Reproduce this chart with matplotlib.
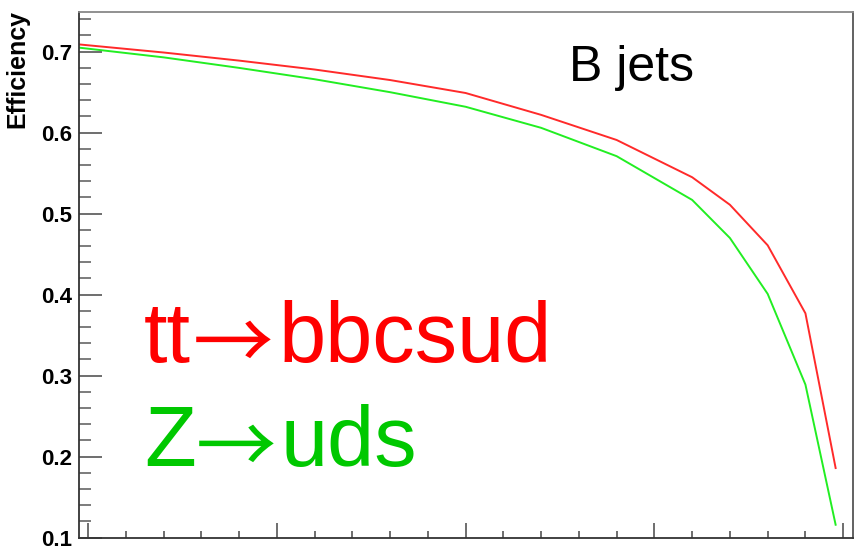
import matplotlib
matplotlib.use("Agg")
import matplotlib.pyplot as plt
from matplotlib.ticker import MultipleLocator, NullFormatter

# Data
cut = [-0.012, 0.1, 0.2, 0.3, 0.4, 0.5, 0.6, 0.7, 0.8, 0.85, 0.9, 0.95, 0.99]
eff_tt = [0.709, 0.699, 0.689, 0.678, 0.665, 0.649, 0.622, 0.591, 0.545, 0.511, 0.461, 0.377, 0.186]
eff_z = [0.705, 0.693, 0.680, 0.666, 0.650, 0.632, 0.606, 0.571, 0.517, 0.470, 0.401, 0.289, 0.116]
y_ticks = [0.1, 0.2, 0.3, 0.4, 0.5, 0.6, 0.7]
label_tt = ("tt", "\u2192", "bbcsud")
label_z = ("Z", "\u2192", "uds")
title_txt = "B jets"
ylabel_txt = "Efficiency"

plt.rcParams['font.family'] = ['Liberation Sans', 'DejaVu Sans']

W, H = 856, 549
fig = plt.figure(figsize=(W / 100, H / 100), dpi=100)
ax = fig.add_axes([79 / W, 1 - 537.7 / H, (853 - 79) / W, (537.7 - 12) / H])

ax.plot(cut, eff_tt, color='#ff2a2a', lw=1.4, solid_joinstyle='miter')
ax.plot(cut, eff_z, color='#22ee22', lw=1.4, solid_joinstyle='miter')

ax.set_xlim(-0.012, 1.013)
ax.set_ylim(0.1, 0.749)

ax.set_yticks(y_ticks)
ax.set_yticklabels([f"{v:.1f}" for v in y_ticks], fontweight='bold', fontsize=16)
ax.yaxis.set_minor_locator(MultipleLocator(0.02))
ax.xaxis.set_major_locator(MultipleLocator(0.25))
ax.xaxis.set_minor_locator(MultipleLocator(0.05))
ax.xaxis.set_major_formatter(NullFormatter())

ax.tick_params(axis='y', which='major', direction='in', length=16.5, width=1.2,
               color='#555555', pad=5, right=False)
ax.tick_params(axis='y', which='minor', direction='in', length=8.6, width=1.2,
               color='#666666', right=False)
ax.tick_params(axis='x', which='major', direction='in', length=11, width=1.2,
               color='#555555', top=False)
ax.tick_params(axis='x', which='minor', direction='in', length=5, width=1.2,
               color='#555555', top=False)

ax.spines['left'].set_color('#333333')
ax.spines['bottom'].set_color('#333333')
ax.spines['top'].set_color('#888888')
ax.spines['right'].set_color('#555555')
for s in ax.spines.values():
    s.set_linewidth(1.3)

fig.text(17 / W, 1 - 10 / H, ylabel_txt, rotation=90, ha='center', va='top',
         fontsize=18, fontweight='bold')

fig.text(569 / W, 1 - 81 / H, title_txt, ha='left', va='baseline', fontsize=36,
         color='black')

latin = ['Liberation Sans', 'DejaVu Sans']
arrowf = ['Noto Sans CJK JP', 'DejaVu Sans']


def arrow_label(parts, xs, base, color):
    fig.text(xs[0] / W, 1 - base / H, parts[0], ha='left', va='baseline',
             fontsize=61, color=color, family=latin)
    fig.text(xs[1] / W, 1 - (base + 8) / H, parts[1], ha='left', va='baseline',
             fontsize=58, color=color, family=arrowf)
    fig.text(xs[2] / W, 1 - base / H, parts[2], ha='left', va='baseline',
             fontsize=61, color=color, family=latin)


arrow_label(label_tt, (144, 193, 278), 362, '#ff0000')
arrow_label(label_z, (144, 196, 281), 466, '#00c800')

fig.savefig("out.png", dpi=100)
